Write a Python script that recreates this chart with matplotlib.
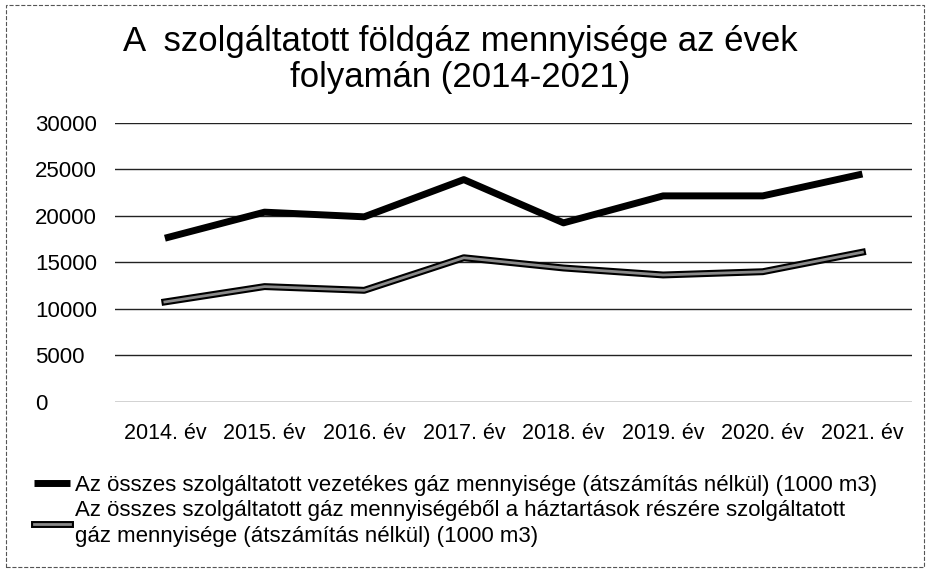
import matplotlib.pyplot as plt
import matplotlib.patheffects as pe
from matplotlib.patches import Rectangle

plt.rcParams['font.family'] = ['Liberation Sans', 'DejaVu Sans']

years = ['2014. év', '2015. év', '2016. év', '2017. év',
         '2018. év', '2019. év', '2020. év', '2021. év']
osszes = [17600, 20400, 19900, 23900, 19250, 22150, 22150, 24500]
haztartas = [10750, 12400, 12000, 15500, 14400, 13650, 14000, 16100]

label1 = 'Az összes szolgáltatott vezetékes gáz mennyisége (átszámítás nélkül) (1000 m3)'
label2 = ('Az összes szolgáltatott gáz mennyiségéből a háztartások részére szolgáltatott\n'
          'gáz mennyisége (átszámítás nélkül) (1000 m3)')

fig = plt.figure(figsize=(9.28, 5.74), dpi=100)
ax = fig.add_axes([0.124, 0.2997, 0.859, 0.4863])

x = range(len(years))
ax.plot(x, osszes, color='black', lw=5, solid_capstyle='butt', label=label1)
ax.plot(x, haztartas, color='#8a8a8a', lw=2,
        path_effects=[pe.Stroke(linewidth=5, foreground='black'), pe.Normal()],
        label=label2)

ax.set_xlim(-0.5, len(years) - 0.5)
ax.set_ylim(0, 30000)
ax.set_yticks(range(0, 30001, 5000))
ax.set_xticks(list(x))
ax.set_xticklabels(years, fontsize=15.5)
ax.grid(axis='y', color='#222222', lw=1)
ax.set_axisbelow(True)
for s in ax.spines.values():
    s.set_visible(False)
ax.tick_params(axis='y', length=0, pad=57.5, labelsize=16)
ax.tick_params(axis='x', length=0, pad=15)
for lbl in ax.get_yticklabels():
    lbl.set_ha('left')

fig.text(0.496, 0.896, 'A  szolgáltatott földgáz mennyisége az évek\nfolyamán (2014-2021)',
         ha='center', va='center', fontsize=25, linespacing=1.1)

leg = fig.legend(loc='upper left', bbox_to_anchor=(0.037, 0.172), frameon=False,
                 fontsize=16, handlelength=1.6, handletextpad=0.25, labelspacing=0.15,
                 borderaxespad=0, borderpad=0)
for t in leg.get_texts():
    t.set_linespacing(1.35)

fig.add_artist(Rectangle((0.006, 0.012), 0.99, 0.98, transform=fig.transFigure,
                         fill=False, ec='#555555', lw=0.8, ls='--'))

fig.savefig('out.png', dpi=100)
